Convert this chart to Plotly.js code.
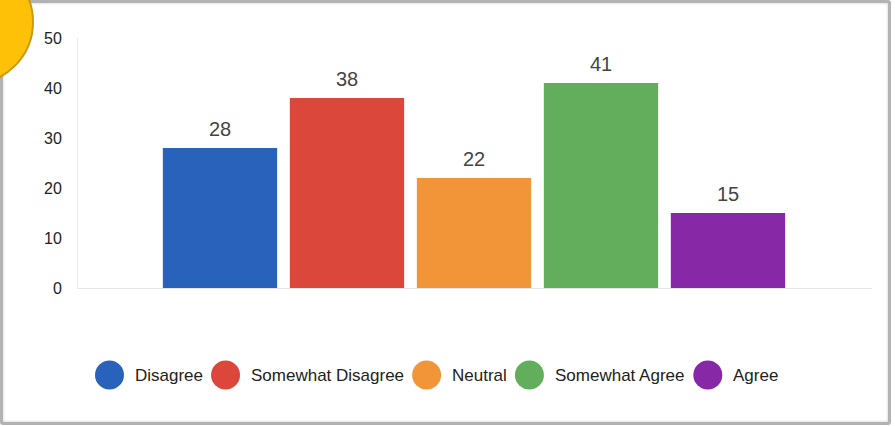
<!DOCTYPE html>
<html>
<head>
<meta charset="utf-8">
<script src="https://cdn.plot.ly/plotly-3.0.1.min.js"></script>
<style>
  html, body { margin: 0; padding: 0; background: #fff; }
  body { width: 895px; height: 426px; position: relative; overflow: hidden; }
  #frame {
    position: absolute; left: 0; top: 0; width: 891px; height: 425px;
    box-sizing: border-box; border: 3px solid #b3b3b3; border-radius: 3px;
    box-shadow: inset 0 0 3px rgba(0,0,0,0.22);
  }
  #chart { position: absolute; left: 0; top: 0; width: 895px; height: 426px; }
  #badge {
    position: absolute; left: -92px; top: -41px; width: 126px; height: 126px;
    box-sizing: border-box; border-radius: 50%;
    background: #ffc107; border: 2px solid #c99a12;
  }
</style>
</head>
<body>
<div id="frame"></div>
<div id="chart"></div>
<div id="badge"></div>
<script>
// Survey responses per answer option
const categories = ['Disagree', 'Somewhat Disagree', 'Neutral', 'Somewhat Agree', 'Agree'];
const counts = [28, 38, 22, 41, 15];
const colors = ['#2962bb', '#db473a', '#f19538', '#63ae5c', '#8729a6'];
const yTicks = [0, 10, 20, 30, 40, 50];

const FONT = '"Liberation Sans", Arial, Helvetica, sans-serif';
const W = 895, H = 426;
const M = { l: 78, r: 23, t: 38, b: 138 };
const plotW = W - M.l - M.r, plotH = H - M.t - M.b;

// one bar per answer option, each on its own category slot
const traces = categories.map((name, i) => ({
  type: 'bar',
  name: name,
  x: [name],
  y: [counts[i]],
  width: 0.9,
  marker: { color: colors[i] },
  hoverinfo: 'skip'
}));

// value labels above the bars
const annotations = categories.map((name, i) => ({
  xref: 'x', yref: 'y', x: name, y: counts[i],
  xanchor: 'center', yanchor: 'bottom', yshift: 6, showarrow: false,
  text: String(counts[i]),
  font: { family: FONT, size: 20, color: '#444' }
}));

// custom legend: large round swatches followed by labels
const ctx = document.createElement('canvas').getContext('2d');
const legendFontSize = 17;
ctx.font = legendFontSize + 'px ' + FONT;
const toPX = px => (px - M.l) / plotW;
const toPY = py => (M.t + plotH - py) / plotH;
const legendY = 375, swatchD = 29, swatchGap = 10, itemGap = 9;
let cursor = 95;
const shapes = [];
categories.forEach((name, i) => {
  shapes.push({
    type: 'circle', xref: 'paper', yref: 'paper',
    x0: toPX(cursor), x1: toPX(cursor + swatchD),
    y0: toPY(legendY + swatchD / 2), y1: toPY(legendY - swatchD / 2),
    fillcolor: colors[i], line: { width: 0 }
  });
  const tx = cursor + swatchD + swatchGap;
  const tw = ctx.measureText(name).width;
  annotations.push({
    xref: 'paper', yref: 'paper', x: toPX(tx - 1), y: toPY(legendY + 1),
    xanchor: 'left', yanchor: 'middle', showarrow: false,
    text: name, font: { family: FONT, size: legendFontSize, color: '#222' }
  });
  cursor = tx + tw + itemGap;
});

const layout = {
  width: W, height: H,
  margin: M,
  paper_bgcolor: 'rgba(0,0,0,0)',
  plot_bgcolor: 'rgba(0,0,0,0)',
  showlegend: false,
  barmode: 'overlay',
  font: { family: FONT, color: '#222' },
  xaxis: {
    type: 'category', categoryarray: categories, range: [-1.118, 5.134],
    showticklabels: false, ticks: '',
    showgrid: false, zeroline: false,
    showline: true, linecolor: '#e6e6e6', linewidth: 1, fixedrange: true
  },
  yaxis: {
    range: [0, 50], tickvals: yTicks, ticktext: yTicks.map(String),
    showgrid: false, zeroline: false, ticks: '',
    showline: true, linecolor: '#ececec', linewidth: 1,
    ticklabelstandoff: 12,
    tickfont: { family: FONT, size: 16, color: '#222' }, fixedrange: true
  },
  shapes: shapes,
  annotations: annotations
};

Plotly.newPlot('chart', traces, layout, { displayModeBar: false, staticPlot: true });
</script>
</body>
</html>
